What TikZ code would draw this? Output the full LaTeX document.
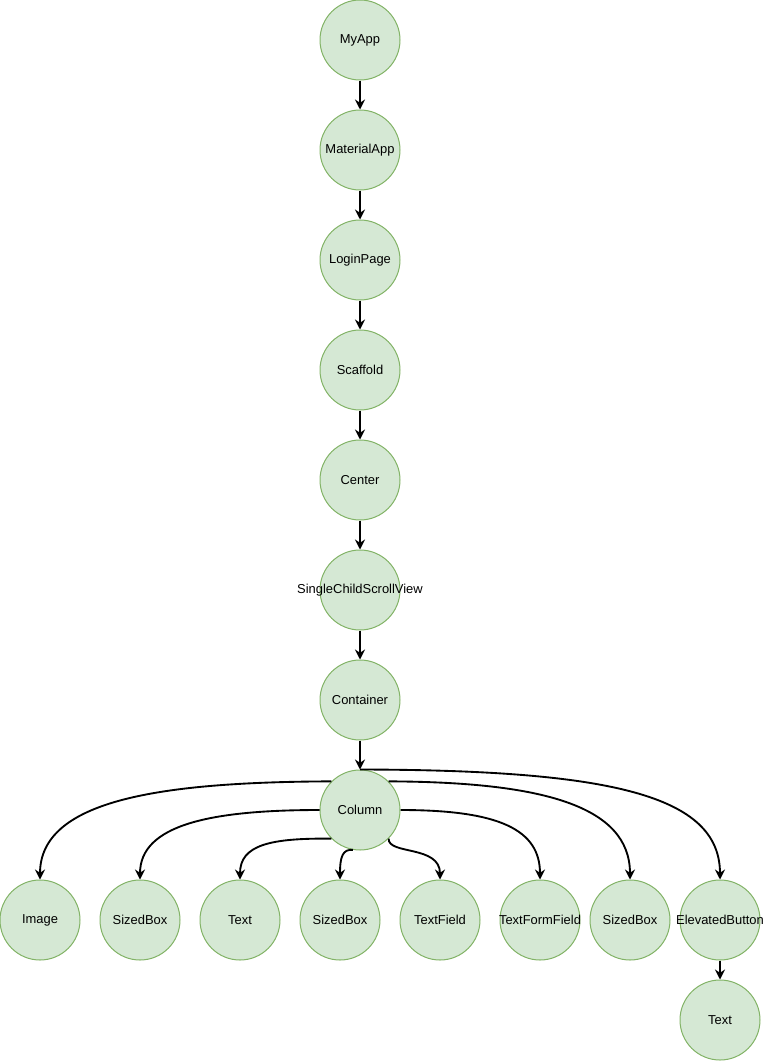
\documentclass[tikz,border=0pt]{standalone}
\usepackage{fontspec}
\setmainfont{Liberation Sans}
\usetikzlibrary{arrows.meta}
\definecolor{nfill}{HTML}{D5E8D4}
\definecolor{nline}{HTML}{82B366}
\newcommand{\wlab}[1]{\makebox[0pt]{#1}}
\begin{document}
\begin{tikzpicture}[x=0.75pt,y=-0.75pt,
  wnode/.style={circle,draw=nline,fill=nfill,line width=0.75pt,minimum size=60pt,inner sep=0pt,font=\fontsize{9.7pt}{11pt}\selectfont,text=black},
  conn/.style={line width=1.4pt,-{Stealth[length=7.5pt,width=7.5pt,inset=2.5pt]}}]
\useasboundingbox (0,0) rectangle (765,1061);
\node[wnode] (myapp) at (360,40) {\wlab{MyApp}};
\node[wnode] (material) at (360,150) {\wlab{MaterialApp}};
\node[wnode] (login) at (360,260) {\wlab{LoginPage}};
\node[wnode] (scaffold) at (360,370) {\wlab{Scaffold}};
\node[wnode] (center) at (360,480) {\wlab{Center}};
\node[wnode] (scroll) at (360,590) {\wlab{SingleChildScrollView}};
\node[wnode] (container) at (360,700) {\wlab{Container}};
\node[wnode] (column) at (360,810) {\wlab{Column}};
\node[wnode] (image) at (40,920) {\wlab{Image}};
\node[wnode] (sb1) at (140,920) {\wlab{SizedBox}};
\node[wnode] (text1) at (240,920) {\wlab{Text}};
\node[wnode] (sb2) at (340,920) {\wlab{SizedBox}};
\node[wnode] (tf) at (440,920) {\wlab{TextField}};
\node[wnode] (tff) at (540,920) {\wlab{TextFormField}};
\node[wnode] (sb3) at (630,920) {\wlab{SizedBox}};
\node[wnode] (eb) at (720,920) {\wlab{ElevatedButton}};
\node[wnode] (text2) at (720,1020) {\wlab{Text}};

\draw[conn] (myapp) -- (material);
\draw[conn] (material) -- (login);
\draw[conn] (login) -- (scaffold);
\draw[conn] (scaffold) -- (center);
\draw[conn] (center) -- (scroll);
\draw[conn] (scroll) -- (container);
\draw[conn] (container) -- (column);
\draw[conn] (eb) -- (text2);

\draw[conn] (column.135) .. controls (160,782) and (40,800) .. (image.north);
\draw[conn] (column.west) .. controls (210,810) and (140,825) .. (sb1.north);
\draw[conn] (column.225) .. controls (270,838) and (240,845) .. (text1.north);
\draw[conn] (column.260) .. controls (343,849) and (340,856) .. (sb2.north);
\draw[conn] (column.315) .. controls (388,855) and (440,845) .. (tf.north);
\draw[conn] (column.east) .. controls (500,810) and (540,830) .. (tff.north);
\draw[conn] (column.45) .. controls (540,782) and (630,805) .. (sb3.north);
\draw[conn] (column.north) .. controls (610,770) and (720,795) .. (eb.north);
\end{tikzpicture}
\end{document}
